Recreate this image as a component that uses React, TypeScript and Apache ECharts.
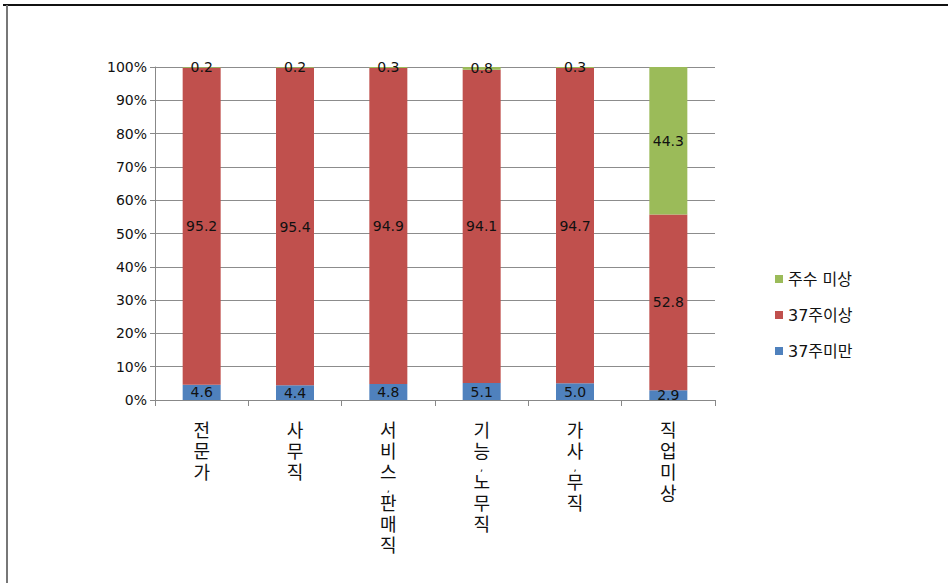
import React, { useEffect, useRef } from "react";
import * as echarts from "echarts";

const categories = ["전문가", "사무직", "서비스,판매직", "기능,노무직", "가사,무직", "직업미상"];
const under37 = [4.6, 4.4, 4.8, 5.1, 5.0, 2.9];
const over37 = [95.2, 95.4, 94.9, 94.1, 94.7, 52.8];
const unknownWeeks = [0.2, 0.2, 0.3, 0.8, 0.3, 44.3];
const seriesNames = ["37주미만", "37주이상", "주수 미상"];
const yTicks = [0, 10, 20, 30, 40, 50, 60, 70, 80, 90, 100];

const FONT = "'DejaVu Sans', 'Noto Sans CJK KR', sans-serif";

function verticalLabel(s: string): string {
  return s
    .split("")
    .map((ch) => (ch === "," ? "{c|,}" : "{a|" + ch + "}"))
    .join("\n");
}

export default function App() {
  const ref = useRef<HTMLDivElement>(null);
  useEffect(() => {
    if (!ref.current) return;
    const chart = echarts.init(ref.current, undefined, { renderer: "svg" });
    const labelStyle = {
      show: true,
      position: "inside" as const,
      color: "#111",
      fontSize: 14,
      fontFamily: FONT,
      formatter: (p: any) => Number(p.value).toFixed(1),
    };
    chart.setOption({
      animation: false,
      backgroundColor: "#fff",
      textStyle: { fontFamily: FONT },
      grid: { left: 155, top: 67, right: 233, bottom: 183, containLabel: false },
      legend: {
        orient: "vertical",
        left: 770,
        top: 266,
        itemWidth: 8,
        itemHeight: 8,
        itemGap: 20,
        icon: "rect",
        data: [seriesNames[2], seriesNames[1], seriesNames[0]],
        textStyle: { fontSize: 16, color: "#111", fontFamily: FONT },
      },
      xAxis: {
        type: "category",
        data: categories,
        axisLine: { lineStyle: { color: "#888", width: 1 } },
        axisTick: { show: true, alignWithLabel: false, length: 6, lineStyle: { color: "#888" } },
        axisLabel: {
          interval: 0,
          margin: 20,
          verticalAlign: "top",
          formatter: (v: string) => verticalLabel(v),
          rich: {
            a: { fontSize: 18, lineHeight: 21, color: "#111", fontFamily: FONT },
            c: { fontSize: 10, lineHeight: 10, color: "#111", fontFamily: FONT },
          },
        },
      },
      yAxis: {
        type: "value",
        min: 0,
        max: 100,
        interval: 10,
        axisLine: { show: true, lineStyle: { color: "#888" } },
        axisTick: { show: true, length: 5, lineStyle: { color: "#888" } },
        axisLabel: {
          formatter: (v: number) => (yTicks.includes(v) ? v + "%" : ""),
          fontSize: 14,
          color: "#111",
          margin: 8,
          fontFamily: FONT,
        },
        splitLine: { show: true, lineStyle: { color: "#8c8c8c", width: 1 } },
      },
      series: [
        {
          name: seriesNames[0],
          type: "bar",
          stack: "total",
          data: under37,
          barWidth: 38,
          itemStyle: { color: "#4F81BD" },
          label: labelStyle,
        },
        {
          name: seriesNames[1],
          type: "bar",
          stack: "total",
          data: over37,
          barWidth: 38,
          itemStyle: { color: "#C0504D" },
          label: labelStyle,
        },
        {
          name: seriesNames[2],
          type: "bar",
          stack: "total",
          data: unknownWeeks,
          barWidth: 38,
          itemStyle: { color: "#9BBB59" },
          label: labelStyle,
        },
      ],
      graphic: [
        { type: "line", shape: { x1: 3, y1: 5, x2: 948, y2: 5 }, style: { stroke: "#111", lineWidth: 2 } },
        { type: "line", shape: { x1: 7, y1: 5, x2: 7, y2: 583 }, style: { stroke: "#777", lineWidth: 2 } },
      ],
    });
    return () => chart.dispose();
  }, []);
  return (
    <div
      ref={ref}
      style={{ position: "fixed", left: 0, top: 0, width: 948, height: 583, background: "#fff" }}
    />
  );
}
